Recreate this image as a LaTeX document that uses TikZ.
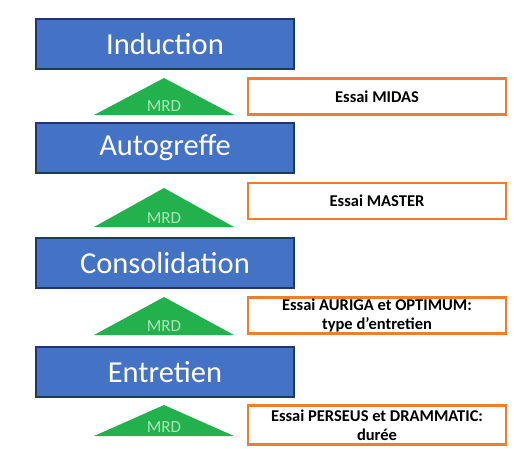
\documentclass[tikz,border=0pt]{standalone}
\usepackage{fontspec}
\setmainfont{Carlito}
\usetikzlibrary{calc}
\definecolor{bleuphase}{HTML}{4472C4}
\definecolor{bordphase}{HTML}{1F3864}
\definecolor{orangeessai}{HTML}{ED7D31}
\definecolor{vertmrd}{HTML}{22B14C}
\definecolor{textemrd}{HTML}{A8E6B4}
\tikzset{phase/.style={fill=bleuphase,draw=bordphase,line width=2.5pt,text=white,
  minimum width=258pt,minimum height=50pt,inner sep=0pt,font=\fontsize{30.5}{30}\selectfont}}
\tikzset{essai/.style={fill=white,draw=orangeessai,line width=2.5pt,align=center,
  minimum width=258pt,minimum height=#1,inner sep=0pt,font=\bfseries\fontsize{16.5}{19}\selectfont},essai/.default=36pt}

\begin{document}
\begin{tikzpicture}[x=1pt,y=-1pt,
                    mrd/.style={fill=vertmrd},
                    mrd texte/.style={text=textemrd,inner sep=0pt,font=\fontsize{17}{17}\selectfont}]

    \useasboundingbox (0,0) rectangle (514,448);

    % Les phases du traitement
    \node [phase] (induction)     at (165,44)  {Induction};
    \node [phase] (autogreffe)    at (165,148) {Autogreffe};
    \node [phase] (consolidation) at (165,263) {Consolidation};
    \node [phase] (entretien)     at (165,372) {Entretien};

    % Les triangles "MRD"
    \fill [mrd] (94,115) -- (164,78) -- (234,115) -- cycle;
    \node [mrd texte] (mrd1) at (164,106) {MRD};

    \fill [mrd] (94,227) -- (164,188) -- (234,227) -- cycle;
    \node [mrd texte] (mrd2) at (164,218) {MRD};

    \fill [mrd] (94,335) -- (164,297) -- (234,335) -- cycle;
    \node [mrd texte] (mrd3) at (164,326) {MRD};

    \fill [mrd] (94,436) -- (164,405) -- (234,436) -- cycle;
    \node [mrd texte] (mrd4) at (164,427) {MRD};

    % Les essais
    \node [essai] (midas)   at (377,96.5) {Essai MIDAS};
    \node [essai] (master)  at (377,201)  {Essai MASTER};
    \node [essai] (auriga)  at (377,315.5) {Essai AURIGA et OPTIMUM:\\type d'entretien};
    \node [essai=39pt] (perseus) at (377,425) {Essai PERSEUS et DRAMMATIC:\\durée};

\end{tikzpicture}
\end{document}
